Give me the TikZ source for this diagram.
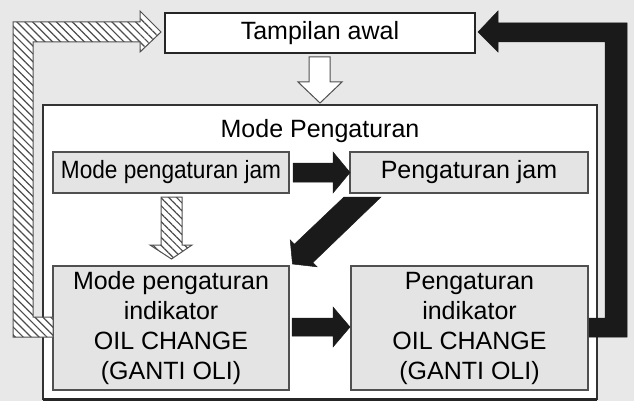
\documentclass[tikz,border=0pt]{standalone}
\usepackage{fontspec}
\usepackage{graphicx}
\setmainfont{Liberation Sans}
\usetikzlibrary{patterns.meta}
\definecolor{bg}{HTML}{E8E8E8}
\definecolor{boxfill}{HTML}{E4E4E4}
\definecolor{arrowblack}{HTML}{1A1A1A}
\definecolor{edgegray}{HTML}{505050}
\tikzset{
  txt/.style={font=\fontsize{25}{30}\selectfont, align=center},
  topbox/.style={draw=black!85, line width=1.5pt, fill=white, inner sep=0pt, txt},
  modebox/.style={draw=edgegray, line width=1.3pt, fill=boxfill, inner sep=0pt, txt},
  container/.style={draw=black!80, line width=1.5pt, fill=white},
  blackarrow/.style={fill=arrowblack, draw=arrowblack, line width=0.5pt, line join=miter},
  hollowarrow/.style={fill=white, draw=edgegray, line width=1pt, line join=miter},
  hatcharrow/.style={preaction={fill=white}, pattern={Lines[angle=-45,distance=5.6pt,line width=1.2pt]}, pattern color=black!70, draw=edgegray, line width=1pt, line join=miter}
}
\begin{document}
\begin{tikzpicture}[x=1pt, y=-1pt]
\useasboundingbox (0,0) rectangle (634,401);
\fill[bg] (0,0) rectangle (634,401);

% container
\draw[container] (43,105) rectangle (597,399);
\draw[black!85, line width=2.5pt] (43,399.5) -- (597,399.5);
\node[txt, anchor=base] (title) at (320,137) {Mode Pengaturan};

% top box
\node[topbox, minimum width=310pt, minimum height=40pt] (awal) at (320,33) {Tampilan awal};

% inner boxes
\node[modebox, minimum width=236pt, minimum height=41pt] (modejam) at (171,172.5) {\scalebox{0.905}[1]{Mode pengaturan jam}};
\node[modebox, minimum width=238pt, minimum height=41pt] (jam) at (469,172.5) {Pengaturan jam};
\node[modebox, minimum width=236pt, minimum height=124pt] (modeoli) at (171,328) {Mode pengaturan\\indikator\\OIL CHANGE\\(GANTI OLI)};
\node[modebox, minimum width=237pt, minimum height=124pt] (oli) at (469.5,328) {Pengaturan\\indikator\\OIL CHANGE\\(GANTI OLI)};

% hollow arrow awal -> container
\draw[hollowarrow] (309,57) -- (330,57) -- (330,82) -- (342,82) -- (320,103) -- (298,82) -- (309,82) -- cycle;

% hatched arrow modejam -> modeoli
\draw[hatcharrow] (161,197) -- (182,197) -- (182,245) -- (192,245) -- (171.5,259) -- (150,245) -- (161,245) -- cycle;

% hatched loop modeoli -> awal
\draw[hatcharrow] (53,317) -- (33,317) -- (33,42) -- (140,42) -- (140,52) -- (161,32) -- (140,11) -- (140,22) -- (13,22) -- (13,337) -- (53,337) -- cycle;

% black arrow modejam -> jam
\draw[blackarrow] (293,163) -- (333,163) -- (333,152) -- (350,172.5) -- (333,193) -- (333,182) -- (293,182) -- cycle;

% black diagonal jam -> modeoli
\draw[blackarrow] (344,197) -- (381,197) -- (312.8,262.6) -- (317,266.8) -- (292.5,264) -- (290.2,240) -- (294.4,244.2) -- cycle;

% black arrow modeoli -> oli
\draw[blackarrow] (292,318) -- (333,318) -- (333,307) -- (350,327) -- (333,347) -- (333,336) -- (292,336) -- cycle;

% black loop oli -> awal
\draw[blackarrow] (589,318) -- (605,318) -- (605,42) -- (498,42) -- (498,52) -- (478,32) -- (498,11) -- (498,23) -- (627,23) -- (627,337) -- (589,337) -- cycle;
\end{tikzpicture}
\end{document}
